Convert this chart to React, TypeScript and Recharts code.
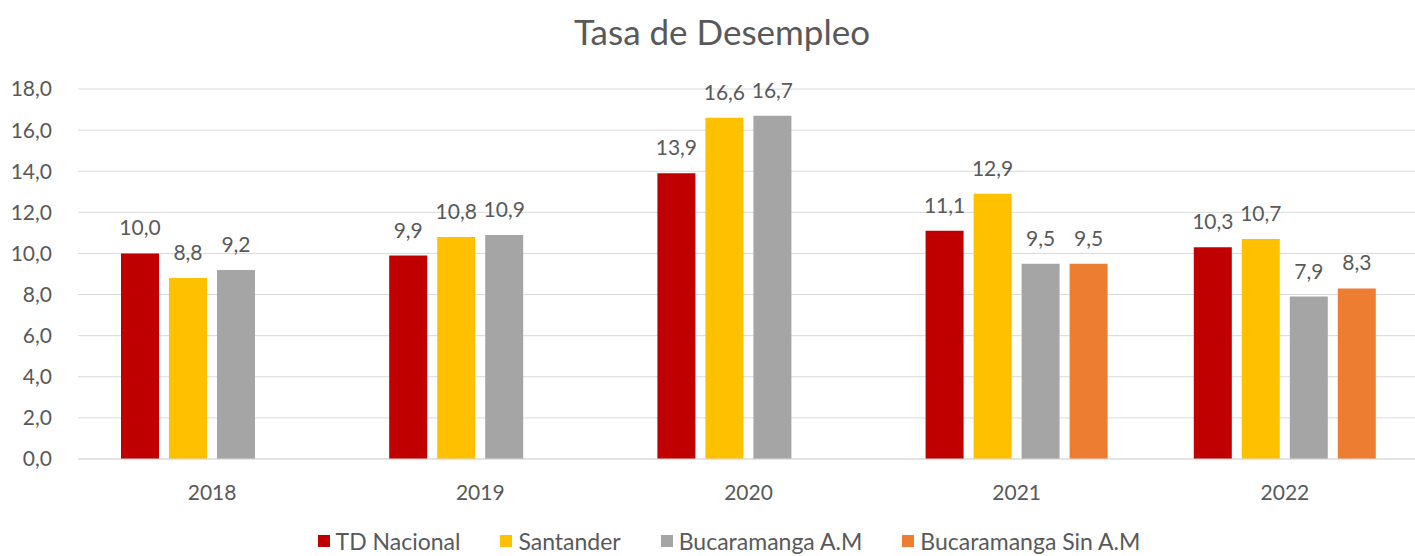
import { BarChart, Bar, XAxis, YAxis, CartesianGrid, LabelList } from 'recharts';

const years = ['2018', '2019', '2020', '2021', '2022'];
const tdNacional = [10.0, 9.9, 13.9, 11.1, 10.3];
const santander = [8.8, 10.8, 16.6, 12.9, 10.7];
const bucaramangaAM = [9.2, 10.9, 16.7, 9.5, 7.9];
const bucaramangaSinAM = [null, null, null, 9.5, 8.3];
const yTicks = [0, 2, 4, 6, 8, 10, 12, 14, 16, 18];

const series = [
  { key: 'nacional', name: 'TD Nacional', color: '#C00000' },
  { key: 'santander', name: 'Santander', color: '#FFC000' },
  { key: 'bgaAM', name: 'Bucaramanga A.M', color: '#A5A5A5' },
  { key: 'bgaSinAM', name: 'Bucaramanga Sin A.M', color: '#ED7D31' },
];

const chartData = years.map((year, i) => ({
  year,
  nacional: tdNacional[i],
  santander: santander[i],
  bgaAM: bucaramangaAM[i],
  bgaSinAM: bucaramangaSinAM[i],
}));

const FONT = 'Lato, "Open Sans", sans-serif';
const TEXT = '#595959';

const fmt = (v: any) => (v == null ? '' : Number(v).toFixed(1).replace('.', ','));

export default function App() {
  return (
    <div style={{ position: 'absolute', left: 0, top: 0, width: 1415, height: 556, overflow: 'hidden', background: '#fff' }}>
      <div
        style={{
          position: 'absolute',
          top: 10,
          left: 0,
          width: 1444,
          textAlign: 'center',
          fontFamily: FONT,
          fontSize: 35,
          color: TEXT,
        }}
      >
        Tasa de Desempleo
      </div>
      <BarChart
        width={1420}
        height={556}
        data={chartData}
        margin={{ top: 89, right: 1, bottom: 67, left: 0 }}
        barSize={38}
        barGap={10}
      >
        <CartesianGrid vertical={false} stroke="#d9d9d9" />
        <XAxis
          dataKey="year"
          height={30}
          axisLine={{ stroke: '#d9d9d9' }}
          tickLine={false}
          tick={{ fill: TEXT, fontSize: 21, fontFamily: FONT }}
          tickMargin={20}
        />
        <YAxis
          width={78}
          domain={[0, 18]}
          ticks={yTicks}
          axisLine={false}
          tickLine={false}
          tickFormatter={fmt}
          tick={{ fill: TEXT, fontSize: 21, fontFamily: FONT }}
          tickMargin={20}
        />
        {series.map((s) => (
          <Bar key={s.key} dataKey={s.key} name={s.name} fill={s.color} isAnimationActive={false}>
            <LabelList
              dataKey={s.key}
              position="top"
              offset={18}
              formatter={fmt}
              style={{ fill: TEXT, fontSize: 21, fontFamily: FONT }}
            />
          </Bar>
        ))}
      </BarChart>
      <div
        style={{
          position: 'absolute',
          top: 527,
          left: 0,
          width: 1458,
          display: 'flex',
          justifyContent: 'center',
          gap: 40,
          fontFamily: FONT,
          fontSize: 23,
          color: TEXT,
          lineHeight: '28px',
        }}
      >
        {series.map((s) => (
          <div key={s.key} style={{ display: 'flex', alignItems: 'center' }}>
            <span style={{ width: 12, height: 12, background: s.color, display: 'inline-block', marginRight: 6 }} />
            {s.name}
          </div>
        ))}
      </div>
    </div>
  );
}
